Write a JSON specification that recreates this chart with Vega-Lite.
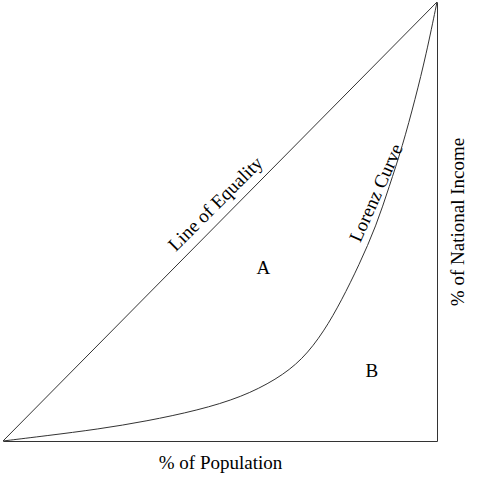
{
  "$schema": "https://vega.github.io/schema/vega-lite/v6.json",
  "width": 434,
  "height": 439,
  "autosize": {"type": "none"},
  "padding": {"left": 3, "top": 2, "right": 49, "bottom": 48},
  "config": {"view": {"stroke": null}, "font": "Liberation Serif"},
  "datasets": {
    "lorenz": [
      {"p": 0, "i": 0}, {"p": 0.1, "i": 0.012}, {"p": 0.22, "i": 0.027}, {"p": 0.33, "i": 0.045},
      {"p": 0.45, "i": 0.07}, {"p": 0.55, "i": 0.1}, {"p": 0.63, "i": 0.14}, {"p": 0.69, "i": 0.185},
      {"p": 0.74, "i": 0.25}, {"p": 0.78, "i": 0.32}, {"p": 0.82, "i": 0.4}, {"p": 0.86, "i": 0.49},
      {"p": 0.89, "i": 0.58}, {"p": 0.92, "i": 0.67}, {"p": 0.95, "i": 0.78}, {"p": 0.975, "i": 0.88},
      {"p": 1, "i": 1}
    ],
    "equality": [{"p": 0, "i": 0}, {"p": 1, "i": 1}]
  },
  "encoding": {
    "x": {"field": "p", "type": "quantitative", "scale": {"domain": [0, 1], "nice": false},
      "axis": {"title": "% of Population", "labels": false, "ticks": false, "grid": false, "domainColor": "#333", "titleFontSize": 19, "titleFontWeight": "normal", "titleColor": "black", "titlePadding": 12, "titleFont": "Liberation Serif"}},
    "y": {"field": "i", "type": "quantitative", "scale": {"domain": [0, 1], "nice": false},
      "axis": {"orient": "right", "title": "% of National Income", "titleAngle": 270, "labels": false, "ticks": false, "grid": false, "domainColor": "#333", "titleFontSize": 19, "titleFontWeight": "normal", "titleColor": "black", "titlePadding": 30, "titleFont": "Liberation Serif"}}
  },
  "layer": [
    {"data": {"name": "equality"}, "mark": {"type": "line", "color": "#333", "strokeWidth": 1}},
    {"data": {"name": "lorenz"}, "mark": {"type": "line", "color": "#333", "strokeWidth": 1, "interpolate": "basis"}},
    {"data": {"values": [{"p": 0.49, "i": 0.54, "t": "Line of Equality"}]},
      "mark": {"type": "text", "angle": -45, "fontSize": 19, "font": "Liberation Serif"},
      "encoding": {"text": {"field": "t"}}},
    {"data": {"values": [{"p": 0.86, "i": 0.565, "t": "Lorenz Curve"}]},
      "mark": {"type": "text", "angle": -66, "fontSize": 19, "font": "Liberation Serif"},
      "encoding": {"text": {"field": "t"}}},
    {"data": {"values": [{"p": 0.6, "i": 0.394, "t": "A"}, {"p": 0.85, "i": 0.16, "t": "B"}]},
      "mark": {"type": "text", "fontSize": 19, "font": "Liberation Serif"},
      "encoding": {"text": {"field": "t"}}}
  ]
}
